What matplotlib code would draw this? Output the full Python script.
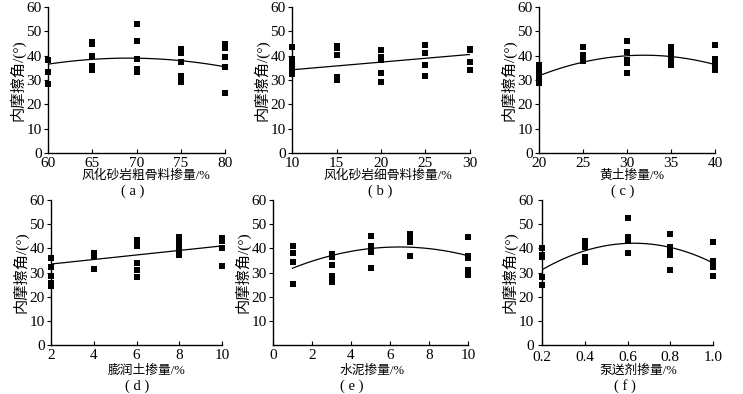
#Scatter plots of internal friction angle vs admixture content, six panels
import matplotlib
matplotlib.use('Agg')
import matplotlib.pyplot as plt
import numpy as np

plt.rcParams['font.family'] = ['Liberation Serif', 'Noto Sans CJK SC']
plt.rcParams['axes.unicode_minus'] = False

#(a) coarse aggregate
a_x = [60, 60, 60, 65, 65, 65, 65, 65, 70, 70, 70, 70, 70, 75, 75, 75, 75, 75, 80, 80, 80, 80, 80]
a_y = [38.2, 33.1, 28.5, 45.7, 45.0, 40.0, 35.9, 34.1, 52.9, 46.1, 38.6, 34.4, 33.1,
       42.6, 41.3, 37.2, 31.5, 29.3, 44.9, 43.2, 39.3, 35.3, 24.8]
a_fit_x = [60, 65, 70, 75, 80]
a_fit_y = [36.4, 38.7, 38.9, 37.8, 35.5]

#(b) fine aggregate
b_x = [10, 10, 10, 10, 10, 10, 10, 15, 15, 15, 15, 15, 20, 20, 20, 20, 20, 25, 25, 25, 25, 30, 30, 30, 30]
b_y = [43.5, 38.5, 37.5, 36.5, 35.5, 34.7, 32.6, 44.1, 43.2, 40.4, 31.2, 30.1,
       42.5, 39.5, 38.4, 32.9, 29.3, 44.5, 41.1, 36.3, 31.8, 42.9, 42.2, 37.3, 34.0]
b_fit_x = [10, 30]
b_fit_y = [34.2, 40.5]

#(c) loess
c_x = [20, 20, 20, 20, 20, 20, 25, 25, 25, 25, 30, 30, 30, 30, 30,
       35, 35, 35, 35, 35, 35, 40, 40, 40, 40, 40]
c_y = [36.0, 33.6, 32.2, 31.2, 30.1, 28.8, 43.5, 40.4, 39.0, 37.7, 45.9, 41.4, 38.4, 37.0, 32.9,
       43.5, 42.5, 41.4, 40.4, 38.6, 36.3, 44.5, 38.6, 37.3, 35.6, 34.2]
c_fit_x = [20, 25, 30, 35, 40]
c_fit_y = [31.8, 37.2, 40.0, 39.7, 36.3]

#(d) bentonite
d_x = [2, 2, 2, 2, 2, 4, 4, 4, 6, 6, 6, 6, 6, 8, 8, 8, 8, 8, 8, 10, 10, 10, 10]
d_y = [35.9, 32.4, 28.6, 25.5, 24.6, 37.9, 36.8, 31.4, 43.4, 41.1, 34.1, 30.9, 28.1,
       44.6, 43.2, 41.7, 40.0, 38.3, 37.2, 44.4, 43.2, 40.0, 32.6]
d_fit_x = [2, 10]
d_fit_y = [33.5, 41.0]

#(e) cement
e_x = [1, 1, 1, 1, 3, 3, 3, 3, 3, 3, 5, 5, 5, 5, 5, 7, 7, 7, 7, 10, 10, 10, 10, 10]
e_y = [40.8, 38.1, 34.4, 25.3, 37.7, 36.4, 33.0, 28.5, 27.1, 26.2, 45.3, 41.1, 39.9, 38.5, 31.9,
       45.9, 43.6, 42.6, 36.7, 44.8, 36.7, 35.8, 31.1, 28.8]
e_fit_x = [1, 3, 5, 7, 10]
e_fit_y = [31.6, 37.4, 39.7, 40.4, 37.0]

#(f) pumping agent
f_x = [0.2, 0.2, 0.2, 0.2, 0.2, 0.4, 0.4, 0.4, 0.4, 0.4, 0.4, 0.6, 0.6, 0.6, 0.6,
       0.8, 0.8, 0.8, 0.8, 0.8, 1.0, 1.0, 1.0, 1.0, 1.0]
f_y = [40.0, 37.2, 36.3, 28.1, 24.8, 43.2, 42.1, 40.7, 36.6, 35.6, 34.5, 52.4, 44.6, 43.2, 38.2,
       45.8, 40.7, 38.3, 37.2, 31.0, 42.5, 34.8, 33.5, 32.4, 28.7]
f_fit_x = [0.2, 0.4, 0.6, 0.8, 1.0]
f_fit_y = [31.3, 38.6, 42.1, 40.7, 33.8]

xlabels = ['风化砂岩粗骨料掺量/%', '风化砂岩细骨料掺量/%', '黄土掺量/%',
           '膨润土掺量/%', '水泥掺量/%', '泵送剂掺量/%']
captions = ['a', 'b', 'c', 'd', 'e', 'f']
ylabel = '内摩擦角/(°)'

fig = plt.figure(figsize=(7.43, 3.94), dpi=100)

W, H = 743.0, 394.0
#pixel boxes: left, right, top, bottom
boxes = [(48, 225, 7, 153), (292, 470, 7, 153), (539, 715, 7, 153),
         (51, 222, 200, 345), (273, 468, 200, 345), (542, 713, 200, 345)]
#label / caption centres in pixels (x, y from top)
xlab_pos = [(146, 176), (388, 176), (632, 176), (147, 371), (372, 371), (638, 371)]
cap_pos = [(133, 191), (380, 191), (623, 191), (137, 386), (352, 386), (625, 386)]

panels = [
    (a_x, a_y, a_fit_x, a_fit_y, 2, (60, 80), [60, 65, 70, 75, 80], ['60', '65', '70', '75', '80']),
    (b_x, b_y, b_fit_x, b_fit_y, 1, (10, 30), [10, 15, 20, 25, 30], ['10', '15', '20', '25', '30']),
    (c_x, c_y, c_fit_x, c_fit_y, 2, (20, 40), [20, 25, 30, 35, 40], ['20', '25', '30', '35', '40']),
    (d_x, d_y, d_fit_x, d_fit_y, 1, (2, 10), [2, 4, 6, 8, 10], ['2', '4', '6', '8', '10']),
    (e_x, e_y, e_fit_x, e_fit_y, 2, (0, 10), [0, 2, 4, 6, 8, 10], ['0', '2', '4', '6', '8', '10']),
    (f_x, f_y, f_fit_x, f_fit_y, 2, (0.2, 1.0), [0.2, 0.4, 0.6, 0.8, 1.0], ['0.2', '0.4', '0.6', '0.8', '1.0']),
]

for i, (box, p) in enumerate(zip(boxes, panels)):
    l, r, t, b = box
    ax = fig.add_axes([l / W, 1 - b / H, (r - l) / W, (b - t) / H])
    xs, ys, fx, fy, deg, xl, xt, xtl = p
    ax.scatter(xs, ys, marker='s', s=22, color='black', linewidths=0, clip_on=False, zorder=3)
    #trend curve fitted to the curve values
    coef = np.polyfit(fx, fy, deg)
    xx = np.linspace(fx[0], fx[-1], 100)
    ax.plot(xx, np.polyval(coef, xx), color='black', lw=0.9, zorder=2)

    ax.set_xlim(*xl)
    ax.set_ylim(0, 60)
    ax.set_xticks(xt)
    ax.set_xticklabels(xtl)
    if i == 4:
        ax.set_yticks([10, 20, 30, 40, 50, 60])
    else:
        ax.set_yticks([0, 10, 20, 30, 40, 50, 60])
    ax.spines['top'].set_visible(False)
    ax.spines['right'].set_visible(False)
    ax.spines['left'].set_linewidth(1.0)
    ax.spines['bottom'].set_linewidth(1.0)
    #panel (f) has a decimal label right at the corner, give it a bit more room
    xpad, ypad = (4, 3) if i == 5 else (3, 1.5)
    ax.tick_params(axis='x', direction='in', length=3, width=0.8, labelsize=11, pad=xpad)
    ax.tick_params(axis='y', direction='out', length=3, width=0.8, labelsize=11, pad=ypad)
    ax.set_ylabel(ylabel, fontsize=11, labelpad=1)
    fig.text(xlab_pos[i][0] / W, 1 - xlab_pos[i][1] / H, xlabels[i],
             ha='center', va='center', fontsize=9.2)
    fig.text(cap_pos[i][0] / W, 1 - cap_pos[i][1] / H, '( ' + captions[i] + ' )',
             ha='center', va='center', fontsize=10.5)

fig.savefig('out.png', dpi=100)
